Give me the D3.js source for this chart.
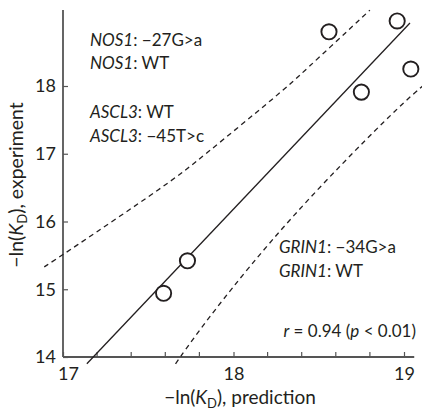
<!DOCTYPE html>
<html>
<head>
<meta charset="utf-8">
<script src="https://cdn.jsdelivr.net/npm/d3@7"></script>
<style>
  body { margin: 0; background: #fff; }
  text { font-family: Lato, "Noto Sans", sans-serif; fill: #231f20; }
</style>
</head>
<body>
<div id="chart"></div>
<script>
// measured values (prediction, experiment)
var predicted = [18.56, 18.96, 19.04, 18.75, 17.73, 17.59];
var measured  = [18.80, 18.96, 18.25, 17.91, 15.42, 14.94];

// regression line ends
var fitX = [17.14, 19.035];
var fitY = [13.90, 18.93];

// confidence band
var upperX = [16.89, 17.00, 17.63, 17.80, 18.28, 18.39, 18.80];
var upperY = [15.33, 15.51, 16.58, 16.92, 17.91, 18.16, 19.12];
var lowerX = [17.66, 17.85, 18.33, 18.96, 19.11];
var lowerY = [13.90, 14.58, 16.07, 17.68, 18.00];

var xTicks = [17, 18, 19];
var xMinor = [17.2, 17.4, 17.6, 17.8, 18.2, 18.4, 18.6, 18.8];
var yTicks = [14, 15, 16, 17, 18];

var width = 422, height = 411;

var svg = d3.select("#chart")
            .append("svg")
            .attr("width", width)
            .attr("height", height);

var x = d3.scaleLinear().domain([17, 19]).range([63, 404]);
var y = d3.scaleLinear().domain([14, 18]).range([357, 86]);

//Ejes
var axisColor = "#555";
svg.append("line")
   .attr("x1", x(17)).attr("x2", x(19.06))
   .attr("y1", y(14)).attr("y2", y(14))
   .attr("stroke", axisColor).attr("stroke-width", 1.8);
svg.append("line")
   .attr("x1", x(17)).attr("x2", x(17))
   .attr("y1", y(14)).attr("y2", y(19.12))
   .attr("stroke", axisColor).attr("stroke-width", 1.8);

var xAxis = svg.append("g")
   .attr("transform", "translate(0," + y(14) + ")")
   .call(d3.axisBottom(x).tickValues(xTicks).tickSizeInner(-5).tickSizeOuter(0).tickPadding(10).tickFormat(d3.format("d")));
xAxis.select(".domain").remove();
xAxis.selectAll("line").attr("stroke", axisColor).attr("stroke-width", 1.2);
xAxis.selectAll("text").attr("font-size", 18).attr("font-family", "Lato, sans-serif").attr("fill", "#231f20")
     .attr("dx", (d) => d == 17 ? 5 : 0);

svg.append("g").selectAll("line")
   .data(xMinor).enter().append("line")
   .attr("x1", (d) => x(d)).attr("x2", (d) => x(d))
   .attr("y1", y(14)).attr("y2", y(14) - 5)
   .attr("stroke", axisColor).attr("stroke-width", 1.2);

var yAxis = svg.append("g")
   .attr("transform", "translate(" + x(17) + ",0)")
   .call(d3.axisLeft(y).tickValues(yTicks).tickSizeInner(-5).tickSizeOuter(0).tickPadding(7).tickFormat(d3.format("d")));
yAxis.select(".domain").remove();
yAxis.selectAll("line").attr("stroke", axisColor).attr("stroke-width", 1.2);
yAxis.selectAll("text").attr("font-size", 18).attr("font-family", "Lato, sans-serif").attr("fill", "#231f20");

//Banda de confianza
var line = d3.line().x((d) => x(d[0])).y((d) => y(d[1])).curve(d3.curveBasis);
svg.append("path")
   .attr("d", line(d3.zip(upperX, upperY)))
   .attr("fill", "none").attr("stroke", "#231f20").attr("stroke-width", 1.3)
   .attr("stroke-dasharray", "5,4");
svg.append("path")
   .attr("d", line(d3.zip(lowerX, lowerY)))
   .attr("fill", "none").attr("stroke", "#231f20").attr("stroke-width", 1.3)
   .attr("stroke-dasharray", "5,4");

//Recta de regresion
svg.append("path")
   .attr("d", d3.line().x((d) => x(d[0])).y((d) => y(d[1]))(d3.zip(fitX, fitY)))
   .attr("fill", "none").attr("stroke", "#231f20").attr("stroke-width", 1.3);

//Puntos
svg.append("g").selectAll("circle")
   .data(d3.zip(predicted, measured)).enter()
   .append("circle")
   .attr("cx", (d) => x(d[0])).attr("cy", (d) => y(d[1]))
   .attr("r", 7.6)
   .attr("fill", "#fff").attr("stroke", "#231f20").attr("stroke-width", 1.9);

//Etiquetas
function label(xp, yp, gene, rest) {
    var t = svg.append("text").attr("x", xp).attr("y", yp).attr("font-size", 17);
    t.append("tspan").attr("font-style", "italic").text(gene);
    t.append("tspan").text(rest);
}
label(90, 46, "NOS1", ": \u221227G>a");
label(90, 69, "NOS1", ": WT");
label(90, 118, "ASCL3", ": WT");
label(90, 142, "ASCL3", ": \u221245T>c");
label(279, 253, "GRIN1", ": \u221234G>a");
label(279, 277, "GRIN1", ": WT");

var stat = svg.append("text").attr("x", 416).attr("y", 337).attr("font-size", 17).attr("text-anchor", "end");
stat.append("tspan").attr("font-style", "italic").text("r");
stat.append("tspan").text(" = 0.94 (");
stat.append("tspan").attr("font-style", "italic").text("p");
stat.append("tspan").text(" < 0.01)");

//Titulos de ejes
var xt = svg.append("text").attr("x", 240).attr("y", 404).attr("font-size", 19).attr("text-anchor", "middle");
xt.append("tspan").text("\u2212ln(");
xt.append("tspan").attr("font-style", "italic").text("K");
xt.append("tspan").attr("font-size", 13).attr("dy", 4).text("D");
xt.append("tspan").attr("dy", -4).text("), prediction");

var yt = svg.append("text").attr("transform", "translate(23,185) rotate(-90)").attr("font-size", 19.5).attr("text-anchor", "middle");
yt.append("tspan").text("\u2212ln(");
yt.append("tspan").attr("font-style", "italic").text("K");
yt.append("tspan").attr("font-size", 13).attr("dy", 4).text("D");
yt.append("tspan").attr("dy", -4).text("), experiment");
</script>
</body>
</html>
